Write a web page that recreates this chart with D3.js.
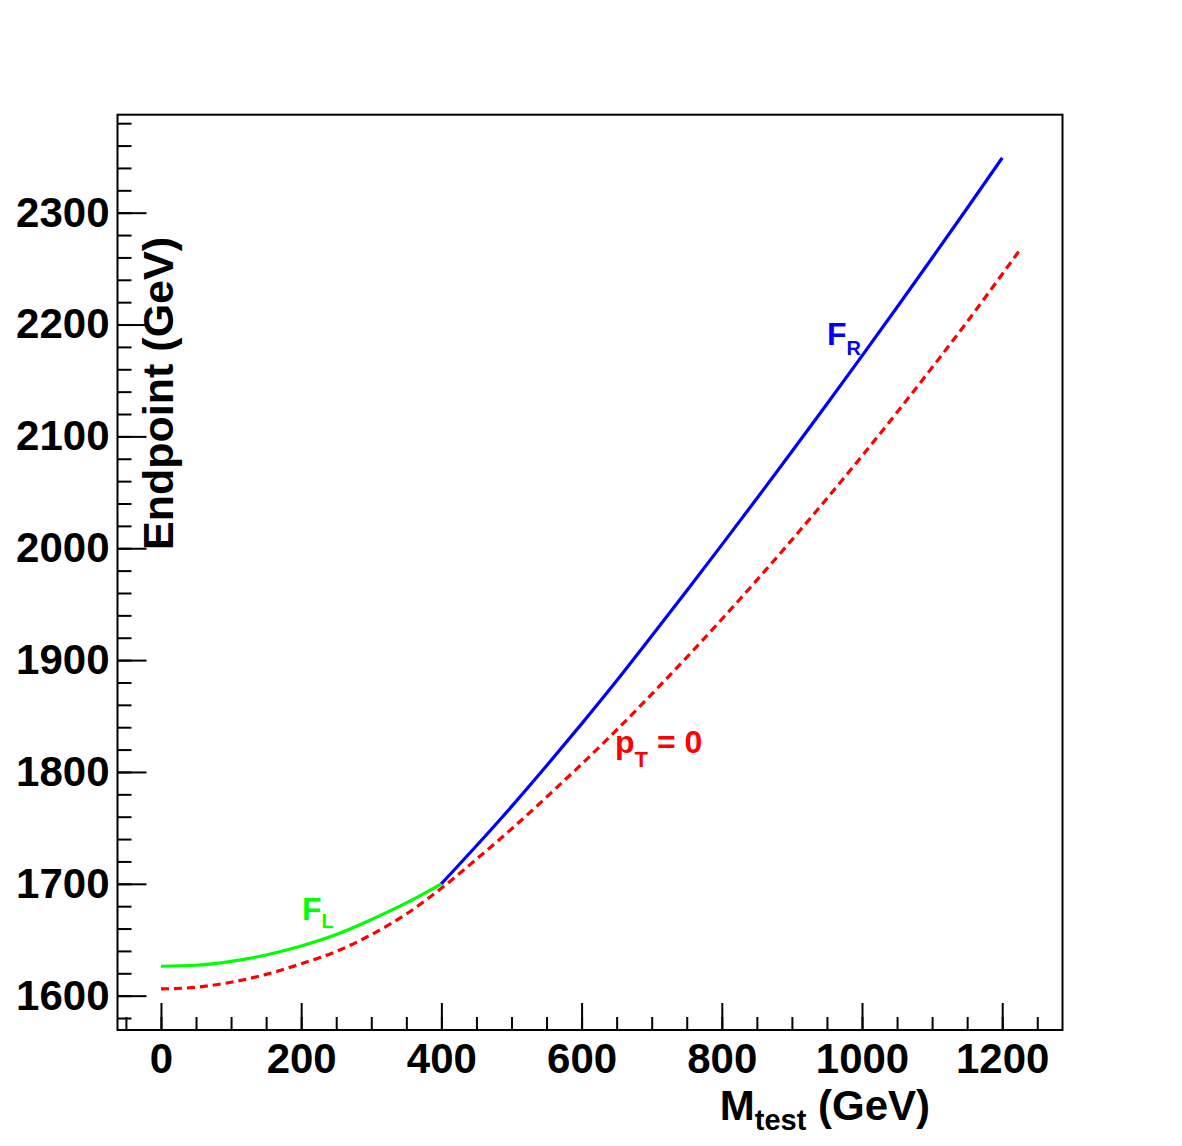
<!DOCTYPE html>
<html>
<head>
<meta charset="utf-8">
<script src="https://cdn.jsdelivr.net/npm/d3@7"></script>
<style>
  html, body { margin: 0; padding: 0; background: #fff; }
  svg { display: block; }
  text { font-family: "Liberation Sans", Arial, Helvetica, sans-serif; font-weight: bold; }
</style>
</head>
<body>
<svg id="chart" width="1182" height="1146"></svg>
<script>
// ---- data ----
const mFL = [0, 50, 100, 150, 200, 250, 300, 350, 400];
const eFL = [1626.3, 1627.2, 1630.7, 1636.4, 1644.4, 1654.6, 1668.0, 1682.9, 1700.0];

const mFR = [400, 450, 500, 550, 600, 650, 700, 750, 800, 850, 900, 950, 1000, 1050, 1100, 1150, 1200];
const eFR = [1700, 1734, 1769, 1805.5, 1843, 1881.5, 1921.5, 1962, 2003, 2044.5, 2086.5, 2129, 2172, 2215.5, 2259.5, 2304, 2349];

const mPT0 = [0, 50, 100, 150, 200, 250, 300, 350, 400, 450, 500, 550, 600, 650, 700, 750, 800, 850, 900, 950, 1000, 1050, 1100, 1150, 1200, 1225];
const ePT0 = [1606, 1607.5, 1612, 1619, 1628.5, 1639.5, 1654.5, 1673, 1696, 1722, 1749, 1777.5, 1807, 1837.5, 1869.5, 1902.5, 1936.5, 1971.5, 2007.5, 2044.5, 2082.5, 2121.5, 2161.5, 2202.5, 2245, 2266.5];

const xMajorTicks = [0, 200, 400, 600, 800, 1000, 1200];
const xMinorTicks = d3.range(-50, 1251, 50);
const yMajorTicks = [1600, 1700, 1800, 1900, 2000, 2100, 2200, 2300];
const yMinorTicks = d3.range(1580, 2381, 20);

// ---- layout ----
const frame = { left: 117.5, right: 1062.5, top: 114.7, bottom: 1030 };
const svg = d3.select("#chart");

const x = d3.scaleLinear().domain([-62, 1286]).range([frame.left, frame.right]);
const y = d3.scaleLinear().domain([1569.3, 2387.6]).range([frame.bottom, frame.top]);

// minor ticks
svg.append("g")
  .attr("transform", `translate(0,${frame.bottom})`)
  .call(d3.axisBottom(x).tickValues(xMinorTicks).tickSize(-13).tickFormat(""))
  .call(g => g.select(".domain").remove())
  .call(g => g.selectAll("line").attr("stroke", "#000").attr("stroke-width", 2));

svg.append("g")
  .attr("transform", `translate(${frame.left},0)`)
  .call(d3.axisLeft(y).tickValues(yMinorTicks).tickSize(-14).tickFormat(""))
  .call(g => g.select(".domain").remove())
  .call(g => g.selectAll("line").attr("stroke", "#000").attr("stroke-width", 2));

// major ticks with labels
svg.append("g")
  .attr("transform", `translate(0,${frame.bottom})`)
  .call(d3.axisBottom(x).tickValues(xMajorTicks).tickSize(-27).tickPadding(13).tickFormat(d3.format("d")))
  .call(g => g.select(".domain").remove())
  .call(g => g.selectAll("line").attr("stroke", "#000").attr("stroke-width", 2))
  .call(g => g.selectAll("text")
    .attr("fill", "#000")
    .style("font-size", "42px")
    .style("font-family", "'Liberation Sans', Arial, Helvetica, sans-serif")
    .style("font-weight", "bold"));

svg.append("g")
  .attr("transform", `translate(${frame.left},0)`)
  .call(d3.axisLeft(y).tickValues(yMajorTicks).tickSize(-29).tickPadding(8).tickFormat(d3.format("d")))
  .call(g => g.select(".domain").remove())
  .call(g => g.selectAll("line").attr("stroke", "#000").attr("stroke-width", 2))
  .call(g => g.selectAll("text")
    .attr("fill", "#000")
    .style("font-size", "42px")
    .style("font-family", "'Liberation Sans', Arial, Helvetica, sans-serif")
    .style("font-weight", "bold"));

// frame
svg.append("rect")
  .attr("x", frame.left).attr("y", frame.top)
  .attr("width", frame.right - frame.left).attr("height", frame.bottom - frame.top)
  .attr("fill", "none").attr("stroke", "#000").attr("stroke-width", 2);

// curves
const line = d3.line().x(d => x(d[0])).y(d => y(d[1])).curve(d3.curveMonotoneX);

svg.append("path")
  .datum(d3.zip(mPT0, ePT0))
  .attr("d", line)
  .attr("fill", "none").attr("stroke", "#ff0000").attr("stroke-width", 3.2)
  .attr("stroke-dasharray", "8,5");

svg.append("path")
  .datum(d3.zip(mFL, eFL))
  .attr("d", line)
  .attr("fill", "none").attr("stroke", "#00ff00").attr("stroke-width", 3.2);

svg.append("path")
  .datum(d3.zip(mFR, eFR))
  .attr("d", line)
  .attr("fill", "none").attr("stroke", "#0000ff").attr("stroke-width", 3.2);

// curve labels
function subLabel(px, py, main, sub, color, mainSize, subSize, dySub, rest) {
  const t = svg.append("text").attr("x", px).attr("y", py).attr("fill", color)
    .style("font-size", mainSize + "px");
  t.append("tspan").text(main);
  t.append("tspan").attr("dy", dySub).style("font-size", subSize + "px").text(sub);
  if (rest) t.append("tspan").attr("dy", -dySub).text(rest);
  return t;
}
subLabel(827, 345, "F", "R", "#0000ff", 32, 20, 10);
subLabel(302, 920, "F", "L", "#00ff00", 32, 20, 8);
subLabel(615, 753, "p", "T", "#ff0000", 32, 22, 14, " = 0");

// axis titles
const xt = svg.append("text").attr("x", 930).attr("y", 1120).attr("text-anchor", "end")
  .attr("fill", "#000").style("font-size", "42px");
xt.append("tspan").text("M");
xt.append("tspan").attr("dy", 10).style("font-size", "29px").text("test");
xt.append("tspan").attr("dy", -10).text(" (GeV)");

svg.append("text")
  .attr("transform", "translate(173,237) rotate(-90)")
  .attr("text-anchor", "end")
  .attr("fill", "#000").style("font-size", "43px")
  .text("Endpoint (GeV)");
</script>
</body>
</html>
